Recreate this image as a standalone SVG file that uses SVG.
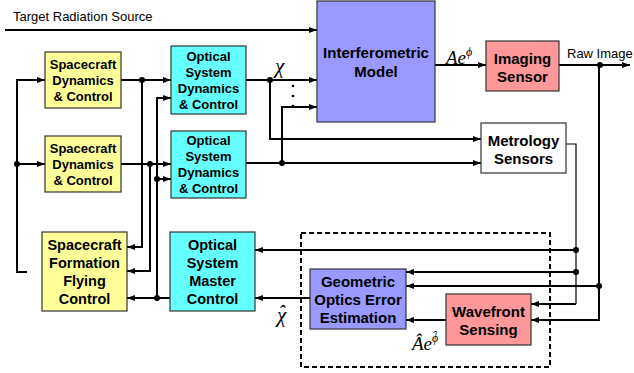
<svg xmlns="http://www.w3.org/2000/svg" width="634" height="373" viewBox="0 0 634 373">
<defs>
<marker id="ah" viewBox="0 0 8 6" refX="8" refY="3" markerWidth="8" markerHeight="6" markerUnits="userSpaceOnUse" orient="auto">
<path d="M0,0 L8,3 L0,6 z" fill="#000"/>
</marker>
<style>
.box{stroke:#333;stroke-width:1.2}
.y{fill:#ffff99}.c{fill:#66ffff}.b{fill:#9999ff}.r{fill:#ff9999}.w{fill:#fff}
.t{font-family:"Liberation Sans",Arial,sans-serif;font-weight:bold;text-anchor:middle;fill:#000}
.s{font-size:13px}.m{font-size:14.5px}
.lbl{font-family:"Liberation Sans",Arial,sans-serif;font-size:13px;fill:#000}
.g{font-family:"Liberation Serif","Times New Roman",serif;font-style:italic;fill:#000}
.ln{fill:none;stroke:#000;stroke-width:2}
.thin{fill:none;stroke:#000;stroke-width:1.2}
.a{marker-end:url(#ah)}
.dot{fill:#000}
.dash{fill:none;stroke:#000;stroke-width:2;stroke-dasharray:5,3}
</style>
</defs>
<rect width="634" height="373" fill="#fff"/>

<text class="lbl" x="567" y="58" font-size="12">Raw Image</text>
<text class="lbl" x="13" y="21">Target Radiation Source</text>

<rect class="dash" x="301" y="233" width="249" height="134"/>

<g id="connectors">
<path class="ln a" d="M5,30 H317"/>
<path class="ln a" d="M27,272 H17 V80 H45"/>
<path class="ln a" d="M17,164 H45"/>
<path class="ln a" d="M121,80 H171"/>
<path class="ln a" d="M142,80 V247 H127"/>
<path class="ln a" d="M121,164 H171"/>
<path class="ln a" d="M150,164 V271 H127"/>
<path class="ln a" d="M157,298 V98 H171"/>
<path class="ln a" d="M157,179 H171"/>
<path class="ln a" d="M170,298 H127"/>
<path class="ln a" d="M246,80 H317"/>
<path class="ln a" d="M270,80 V139 H481"/>
<path class="ln a" d="M282,163 V107 H317"/>
<path class="ln a" d="M246,163 H481"/>
<path class="ln a" d="M435,65 H486"/>
<path class="ln a" d="M559,65 H630"/>
<path class="ln a" d="M599,65 V320 H531"/>
<path class="thin" d="M566,144 H576 V304"/>
<path class="ln a" d="M576,304 H531"/>
<path class="ln a" d="M576,250 H255"/>
<path class="ln a" d="M576,272 H406"/>
<path class="ln a" d="M599,286 H406"/>
<path class="ln a" d="M446,320 H406"/>
<path class="ln a" d="M310,298 H255"/>
<circle class="dot" cx="17" cy="164" r="3"/>
<circle class="dot" cx="142" cy="80" r="3"/>
<circle class="dot" cx="150" cy="164" r="3"/>
<circle class="dot" cx="157" cy="179" r="3"/>
<circle class="dot" cx="157" cy="298" r="3"/>
<circle class="dot" cx="270" cy="80" r="3"/>
<circle class="dot" cx="282" cy="163" r="3"/>
<circle class="dot" cx="600" cy="65" r="3"/>
<circle class="dot" cx="576" cy="250" r="3"/>
<circle class="dot" cx="576" cy="272" r="3"/>
<circle class="dot" cx="599" cy="286" r="3"/>
<circle class="dot" cx="293" cy="86" r="1.3"/>
<circle class="dot" cx="293" cy="96" r="1.3"/>
<circle class="dot" cx="293" cy="106" r="1.3"/>
</g>

<text class="g" x="275" y="73" font-size="21">χ</text>
<text class="g" x="446" y="64" font-size="19">Ae<tspan font-size="12" dy="-8">ϕ</tspan></text>
<text class="g" x="277" y="322" font-size="21">χ<tspan font-size="20" dx="-8" dy="-2">ˆ</tspan></text>
<text class="g" x="412" y="350" font-size="19">Âe<tspan font-size="12" dy="-8">ϕ</tspan><tspan font-size="13" dx="-6" dy="-2">ˆ</tspan></text>

<g id="sdc1">
<rect class="box y" x="45" y="52" width="76" height="56"/>
<text class="t s" x="83" y="68.5">Spacecraft</text>
<text class="t s" x="83" y="84.5">Dynamics</text>
<text class="t s" x="83" y="100.5">&amp; Control</text>
</g>
<g id="sdc2">
<rect class="box y" x="45" y="136" width="76" height="56"/>
<text class="t s" x="83" y="152.5">Spacecraft</text>
<text class="t s" x="83" y="168.5">Dynamics</text>
<text class="t s" x="83" y="184.5">&amp; Control</text>
</g>
<g id="osdc1">
<rect class="box c" x="171" y="46" width="75" height="68"/>
<text class="t s" x="208.5" y="60.5">Optical</text>
<text class="t s" x="208.5" y="76.5">System</text>
<text class="t s" x="208.5" y="92.5">Dynamics</text>
<text class="t s" x="208.5" y="108.5">&amp; Control</text>
</g>
<g id="osdc2">
<rect class="box c" x="171" y="131" width="75" height="67"/>
<text class="t s" x="208.5" y="145">Optical</text>
<text class="t s" x="208.5" y="161">System</text>
<text class="t s" x="208.5" y="177">Dynamics</text>
<text class="t s" x="208.5" y="193">&amp; Control</text>
</g>
<g id="interferometric">
<rect class="box b" x="317" y="1" width="118" height="121"/>
<text class="t" x="376" y="58" font-size="15">Interferometric</text>
<text class="t" x="376" y="77" font-size="15">Model</text>
</g>
<g id="imaging">
<rect class="box r" x="486" y="41" width="73" height="50"/>
<text class="t" x="522.5" y="63.5" font-size="15">Imaging</text>
<text class="t" x="522.5" y="81.5" font-size="15">Sensor</text>
</g>
<g id="metrology">
<rect class="box w" x="481" y="123" width="85" height="50"/>
<text class="t" x="523.5" y="145.5" font-size="15">Metrology</text>
<text class="t" x="523.5" y="163.5" font-size="15">Sensors</text>
</g>
<g id="sffc">
<rect class="box y" x="42" y="232" width="85" height="79"/>
<text class="t m" x="84.5" y="250">Spacecraft</text>
<text class="t m" x="84.5" y="268">Formation</text>
<text class="t m" x="84.5" y="286">Flying</text>
<text class="t m" x="84.5" y="304">Control</text>
</g>
<g id="osmc">
<rect class="box c" x="170" y="232" width="85" height="79"/>
<text class="t m" x="212.5" y="250">Optical</text>
<text class="t m" x="212.5" y="268">System</text>
<text class="t m" x="212.5" y="286">Master</text>
<text class="t m" x="212.5" y="304">Control</text>
</g>
<g id="geometric">
<rect class="box b" x="310" y="269" width="96" height="60"/>
<text class="t" x="358" y="287" font-size="15">Geometric</text>
<text class="t" x="358" y="305" font-size="15">Optics Error</text>
<text class="t" x="358" y="323" font-size="15">Estimation</text>
</g>
<g id="wavefront">
<rect class="box r" x="446" y="294" width="85" height="51"/>
<text class="t" x="488.5" y="317" font-size="15">Wavefront</text>
<text class="t" x="488.5" y="335" font-size="15">Sensing</text>
</g>
</svg>
